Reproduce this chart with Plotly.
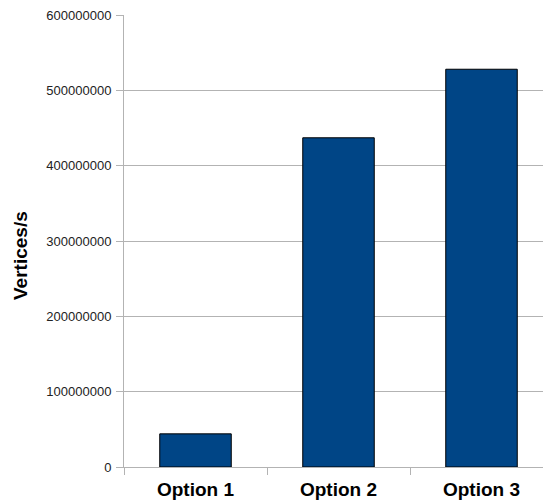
import plotly.graph_objects as go

# Throughput per option
options = ["Option 1", "Option 2", "Option 3"]
vertices_per_sec = [44000000, 437000000, 528000000]
y_ticks = [0, 100000000, 200000000, 300000000, 400000000, 500000000, 600000000]
y_tick_text = [str(v) for v in y_ticks]

W, H = 543, 504
L, R, T, B = 124, 0, 15, 37
plot_w = W - L - R
cat_w = 143  # pixel width of one category slot

fig = go.Figure(
    go.Bar(
        x=options,
        y=vertices_per_sec,
        marker=dict(color="#004586", line=dict(color="#000000", width=1)),
        width=0.5,
    )
)

fig.update_layout(
    width=W,
    height=H,
    margin=dict(l=L, r=R, t=T, b=B),
    plot_bgcolor="white",
    paper_bgcolor="white",
    showlegend=False,
    font=dict(family="Liberation Sans, Arial, sans-serif"),
)

fig.update_xaxes(
    type="category",
    range=[-0.5, -0.5 + plot_w / cat_w],
    showgrid=False,
    showline=True,
    linecolor="#b3b3b3",
    linewidth=1,
    ticks="outside",
    tickson="boundaries",
    ticklen=7,
    tickcolor="#b3b3b3",
    ticklabelstandoff=5,
    tickfont=dict(size=19, color="#000000", family="Liberation Sans, Arial, sans-serif", weight="bold"),
)

fig.update_yaxes(
    range=[0, 600000000],
    tickvals=y_ticks,
    ticktext=y_tick_text,
    showgrid=True,
    gridcolor="#b3b3b3",
    gridwidth=1,
    showline=True,
    linecolor="#b3b3b3",
    linewidth=1,
    ticks="outside",
    ticklen=7,
    tickcolor="#b3b3b3",
    ticklabelstandoff=2,
    tickfont=dict(size=13, color="#222222"),
    zeroline=False,
)

fig.add_annotation(
    text="<b>Vertices/s</b>",
    textangle=-90,
    xref="paper",
    yref="paper",
    x=(20 - L) / plot_w,
    y=(H - B - 256) / (H - T - B),
    xanchor="center",
    yanchor="middle",
    showarrow=False,
    font=dict(size=19, color="#000000"),
)

fig.write_html("out.html")
